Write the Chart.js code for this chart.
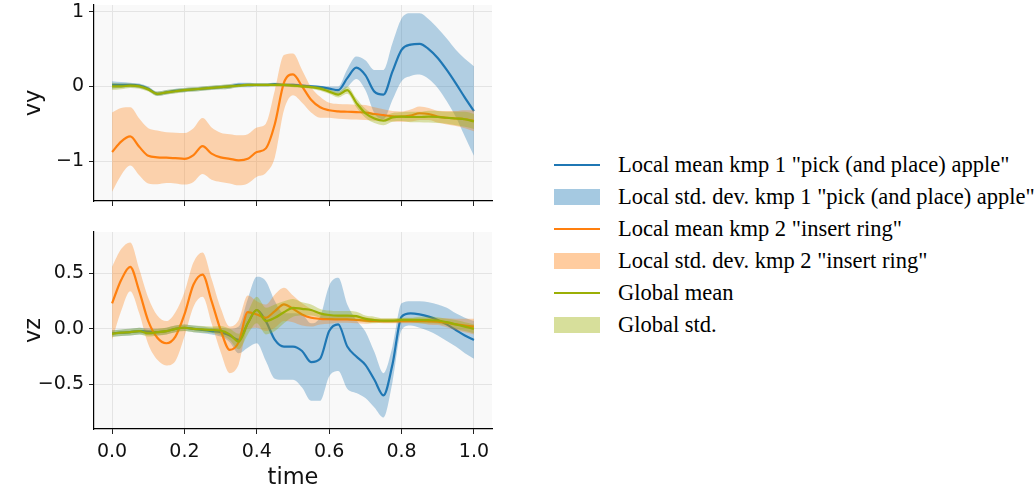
<!DOCTYPE html>
<html>
<head>
<meta charset="utf-8">
<script src="https://cdn.jsdelivr.net/npm/chart.js@4.4.0/dist/chart.umd.min.js"></script>
<style>
  body { margin: 0; background: #fff; width: 1036px; height: 488px; overflow: hidden; position: relative; }
  #topBox { position: absolute; left: 0; top: 0; width: 500px; height: 215px; }
  #botBox { position: absolute; left: 0; top: 225px; width: 500px; height: 271px; }
  .legend { position: absolute; left: 554px; top: 149px; font-family: "Liberation Serif", "Times New Roman", serif; font-size: 22.5px; color: #000; }
  .row { height: 32px; display: flex; align-items: center; white-space: nowrap; }
  .sw { width: 46px; margin-right: 18px; flex: none; }
  .ln { height: 2px; }
  .pt { height: 16px; }
</style>
</head>
<body>
<div id="topBox"><canvas id="vyChart"></canvas></div>
<div id="botBox"><canvas id="vzChart"></canvas></div>
<div class="legend">
  <div class="row"><div class="sw ln" style="background: rgb(31,119,180)"></div>Local mean kmp 1 "pick (and place) apple"</div>
  <div class="row"><div class="sw pt" style="background: rgba(31,119,180,0.4)"></div>Local std. dev. kmp 1 "pick (and place) apple"</div>
  <div class="row"><div class="sw ln" style="background: rgb(255,127,14)"></div>Local mean kmp 2 "insert ring"</div>
  <div class="row"><div class="sw pt" style="background: rgba(255,127,14,0.4)"></div>Local std. dev. kmp 2 "insert ring"</div>
  <div class="row"><div class="sw ln" style="background: rgb(155,175,5)"></div>Global mean</div>
  <div class="row"><div class="sw pt" style="background: rgba(155,175,5,0.4)"></div>Global std.</div>
</div>
<script>
// datos
const time = [0.000,0.025,0.050,0.075,0.100,0.125,0.150,0.175,0.200,0.225,0.250,0.275,0.300,0.325,0.350,0.375,0.400,0.425,0.450,0.475,0.500,0.525,0.550,0.575,0.600,0.625,0.650,0.675,0.700,0.725,0.750,0.775,0.800,0.825,0.850,0.875,0.900,0.925,0.950,0.975,1.000];
const timeTicks = [0, 0.2, 0.4, 0.6, 0.8, 1.0];
const vyTicks = [-1, 0, 1];
const vzTicks = [-0.5, 0, 0.5];

// vy
const vyMean1 = [0.02,0.02,0.02,0.01,-0.03,-0.1,-0.08,-0.06,-0.05,-0.04,-0.03,-0.02,-0.01,0.0,0.02,0.02,0.02,0.02,0.03,0.02,0.02,0.01,0.0,-0.01,-0.03,-0.05,0.11,0.25,0.15,-0.07,-0.11,0.2,0.49,0.56,0.57,0.5,0.38,0.22,0.04,-0.15,-0.33];
const vyStd1 = [0.05,0.04,0.03,0.03,0.03,0.03,0.03,0.03,0.03,0.03,0.03,0.03,0.03,0.03,0.03,0.03,0.02,0.02,0.02,0.02,0.02,0.02,0.02,0.02,0.03,0.05,0.12,0.15,0.2,0.29,0.33,0.38,0.42,0.42,0.41,0.4,0.4,0.42,0.45,0.52,0.6];
const vyMean2 = [-0.88,-0.74,-0.67,-0.81,-0.93,-0.95,-0.955,-0.96,-0.97,-0.92,-0.8,-0.9,-0.95,-0.97,-0.99,-0.97,-0.88,-0.83,-0.5,0.05,0.16,0.0,-0.18,-0.28,-0.32,-0.335,-0.34,-0.345,-0.35,-0.37,-0.385,-0.4,-0.405,-0.39,-0.36,-0.37,-0.405,-0.42,-0.43,-0.44,-0.46];
const vyStd2 = [0.53,0.45,0.39,0.38,0.37,0.36,0.34,0.34,0.345,0.36,0.375,0.35,0.33,0.33,0.335,0.33,0.33,0.33,0.45,0.37,0.28,0.22,0.17,0.14,0.1,0.1,0.1,0.1,0.1,0.09,0.08,0.07,0.07,0.08,0.09,0.08,0.08,0.09,0.1,0.12,0.14];
const vyMeanG = [0.0,0.0,0.01,0.0,-0.04,-0.1,-0.08,-0.065,-0.05,-0.04,-0.03,-0.02,-0.01,0.0,0.01,0.02,0.02,0.02,0.02,0.02,0.01,0.0,-0.01,-0.03,-0.07,-0.11,-0.05,-0.22,-0.36,-0.43,-0.46,-0.415,-0.405,-0.41,-0.41,-0.405,-0.41,-0.42,-0.43,-0.44,-0.47];
const vyStdG = [0.05,0.04,0.03,0.03,0.03,0.03,0.03,0.03,0.03,0.03,0.03,0.03,0.03,0.03,0.02,0.02,0.02,0.02,0.02,0.02,0.02,0.02,0.02,0.03,0.03,0.04,0.05,0.06,0.06,0.06,0.06,0.06,0.06,0.07,0.07,0.08,0.08,0.08,0.09,0.1,0.1];

// vz
const vzMean1 = [-0.04,-0.035,-0.03,-0.02,-0.025,-0.03,-0.02,0.0,0.01,0.0,-0.01,-0.02,-0.03,-0.06,-0.1,0.05,0.17,0.07,-0.1,-0.16,-0.16,-0.2,-0.3,-0.27,-0.02,0.04,-0.16,-0.25,-0.325,-0.46,-0.6,-0.32,0.11,0.14,0.13,0.11,0.08,0.04,-0.01,-0.06,-0.1];
const vzStd1 = [0.03,0.03,0.03,0.03,0.03,0.03,0.03,0.03,0.03,0.03,0.03,0.03,0.04,0.06,0.12,0.22,0.3,0.36,0.35,0.3,0.3,0.33,0.35,0.38,0.41,0.42,0.38,0.33,0.3,0.25,0.2,0.16,0.12,0.11,0.12,0.13,0.14,0.15,0.15,0.16,0.17];
const vzMean2 = [0.23,0.44,0.56,0.34,0.07,-0.08,-0.13,-0.07,0.13,0.4,0.49,0.25,-0.01,-0.19,-0.12,0.15,0.13,0.1,0.16,0.22,0.18,0.13,0.1,0.09,0.087,0.086,0.085,0.08,0.075,0.072,0.07,0.07,0.07,0.07,0.07,0.068,0.065,0.055,0.04,0.03,0.02];
const vzStd2 = [0.33,0.28,0.22,0.2,0.21,0.2,0.2,0.22,0.2,0.2,0.2,0.2,0.2,0.21,0.2,0.15,0.12,0.12,0.15,0.15,0.12,0.1,0.08,0.05,0.04,0.03,0.03,0.03,0.03,0.02,0.02,0.02,0.02,0.02,0.02,0.03,0.03,0.04,0.05,0.06,0.07];
const vzMeanG = [-0.045,-0.035,-0.03,-0.02,-0.04,-0.03,-0.02,0.0,0.01,0.0,-0.005,-0.01,-0.015,-0.05,-0.115,0.05,0.17,0.07,0.1,0.15,0.19,0.18,0.17,0.14,0.125,0.12,0.12,0.115,0.09,0.08,0.075,0.075,0.08,0.08,0.08,0.078,0.075,0.06,0.04,0.02,0.0];
const vzStdG = [0.03,0.03,0.03,0.03,0.03,0.03,0.03,0.03,0.03,0.03,0.03,0.03,0.04,0.05,0.07,0.1,0.12,0.12,0.12,0.1,0.08,0.06,0.05,0.04,0.04,0.04,0.04,0.04,0.03,0.03,0.02,0.02,0.02,0.02,0.03,0.03,0.03,0.03,0.04,0.04,0.04];

const blue = 'rgb(31,119,180)', blueBand = 'rgba(31,119,180,0.33)';
const orange = 'rgb(255,127,14)', orangeBand = 'rgba(255,127,14,0.33)';
const green = 'rgb(155,175,5)', greenBand = 'rgba(155,175,5,0.35)';

const pts = arr => arr.map((v, i) => ({ x: time[i], y: v }));

function serie(mean, std, color, band, ord) {
    return [
        { data: pts(mean.map((m, i) => m + std[i])), borderWidth: 0, pointRadius: 0, fill: false, order: ord + 1, cubicInterpolationMode: 'monotone' },
        { data: pts(mean.map((m, i) => m - std[i])), borderWidth: 0, pointRadius: 0, fill: '-1', backgroundColor: band, order: ord + 1, cubicInterpolationMode: 'monotone' },
        { data: pts(mean), borderColor: color, borderWidth: 2.2, pointRadius: 0, fill: false, order: ord, cubicInterpolationMode: 'monotone' }
    ];
}

const fondo = {
    id: 'fondo',
    beforeDraw(chart) {
        const a = chart.chartArea, c = chart.ctx;
        c.save();
        c.fillStyle = '#f9f9f9';
        c.fillRect(a.left, a.top, a.right - a.left, a.bottom - a.top);
        c.restore();
    }
};

const minus = s => String(s).replace('-', '\u2212');

function opciones(yMin, yMax, yTicks, yLabel, yFmt, bottom) {
    return {
        responsive: true,
        maintainAspectRatio: false,
        animation: false,
        events: [],
        layout: { padding: { left: 18, right: 8, top: bottom ? 7 : 5, bottom: 0 } },
        plugins: { legend: { display: false }, tooltip: { enabled: false } },
        scales: {
            x: {
                type: 'linear', min: -0.05, max: 1.05,
                afterBuildTicks: s => { s.ticks = timeTicks.map(v => ({ value: v })); },
                afterFit: s => { s.height = bottom ? 67 : 14; s.paddingLeft = 0; s.paddingRight = 0; },
                grid: { color: '#e4e4e4', lineWidth: 1, tickColor: '#222', tickLength: 5 },
                border: { color: '#000', width: 1.2 },
                ticks: {
                    display: bottom, padding: 7, color: '#111',
                    font: { family: 'DejaVu Sans', size: 19 },
                    callback: v => minus(v.toFixed(1))
                },
                title: {
                    display: bottom, text: 'time', color: '#111',
                    font: { family: 'DejaVu Sans', size: 22.5 }, padding: { top: 0, bottom: 4 }
                }
            },
            y: {
                min: yMin, max: yMax,
                afterBuildTicks: s => { s.ticks = yTicks.map(v => ({ value: v })); },
                afterFit: s => { s.width = 76; s.paddingTop = 0; s.paddingBottom = 0; },
                grid: { color: '#e4e4e4', lineWidth: 1, tickColor: '#222', tickLength: 5 },
                border: { color: '#000', width: 1.2 },
                ticks: {
                    padding: 5, color: '#111',
                    font: { family: 'DejaVu Sans', size: 19 },
                    callback: yFmt
                },
                title: {
                    display: true, text: yLabel, color: '#111',
                    font: { family: 'DejaVu Sans', size: 22.5 }, padding: { top: 3, bottom: 0 }
                }
            }
        }
    };
}

new Chart(document.getElementById('vyChart'), {
    type: 'line',
    data: {
        datasets: [
            ...serie(vyMeanG, vyStdG, green, greenBand, 0),
            ...serie(vyMean2, vyStd2, orange, orangeBand, 2),
            ...serie(vyMean1, vyStd1, blue, blueBand, 4)
        ]
    },
    options: opciones(-1.535, 1.09, vyTicks, 'vy', v => minus(v), false),
    plugins: [fondo]
});

new Chart(document.getElementById('vzChart'), {
    type: 'line',
    data: {
        datasets: [
            ...serie(vzMeanG, vzStdG, green, greenBand, 0),
            ...serie(vzMean2, vzStd2, orange, orangeBand, 2),
            ...serie(vzMean1, vzStd1, blue, blueBand, 4)
        ]
    },
    options: opciones(-0.904, 0.874, vzTicks, 'vz', v => minus(v.toFixed(1)), true),
    plugins: [fondo]
});
</script>
</body>
</html>
